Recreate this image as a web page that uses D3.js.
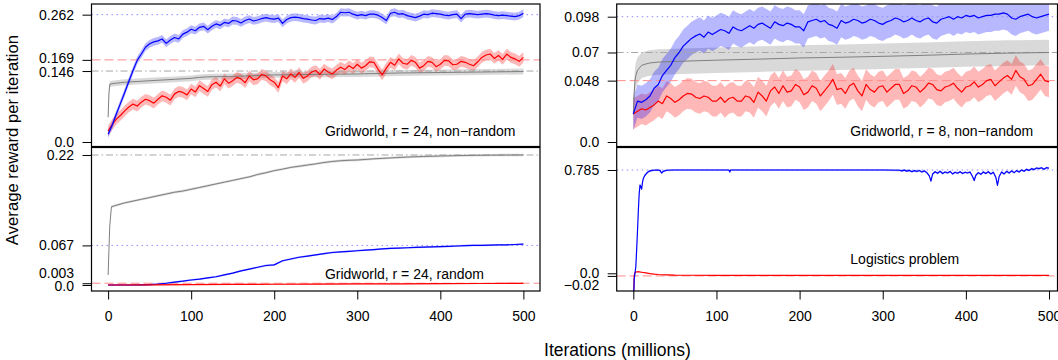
<!DOCTYPE html>
<html>
<head>
<meta charset="utf-8">
<script src="https://cdn.jsdelivr.net/npm/d3@7"></script>
<style>
  body { margin: 0; background: #fff; }
  text { font-family: "Liberation Sans", Arial, sans-serif; fill: #000; }
</style>
</head>
<body>
<svg id="chart" width="1058" height="360"></svg>
<script>
// ---- data ----
var iter5 = d3.range(0, 501, 5);
var iter10 = d3.range(0, 501, 10);
var xTicks = [0, 100, 200, 300, 400, 500];

// Gridworld r = 24, non-random
var tlBlue = [
  0.016,0.035,0.058,0.080,0.102,0.125,0.147,0.168,0.181,0.195,
  0.202,0.206,0.208,0.212,0.203,0.210,0.215,0.212,0.222,0.226,
  0.232,0.229,0.236,0.238,0.231,0.238,0.243,0.240,0.246,0.244,
  0.250,0.249,0.245,0.250,0.253,0.249,0.251,0.254,0.256,0.254,
  0.253,0.255,0.244,0.252,0.256,0.257,0.256,0.254,0.253,0.251,
  0.250,0.254,0.253,0.255,0.252,0.258,0.267,0.266,0.267,0.263,
  0.260,0.262,0.260,0.263,0.263,0.261,0.256,0.250,0.265,0.267,
  0.263,0.264,0.260,0.258,0.256,0.259,0.263,0.262,0.265,0.264,
  0.263,0.261,0.260,0.262,0.263,0.254,0.263,0.264,0.263,0.262,
  0.263,0.264,0.263,0.261,0.260,0.261,0.260,0.259,0.258,0.260,
  0.265];
var tlRed = [
  0.023,0.036,0.047,0.055,0.064,0.072,0.078,0.074,0.082,0.088,
  0.085,0.080,0.088,0.095,0.092,0.086,0.099,0.104,0.102,0.097,
  0.109,0.103,0.116,0.110,0.104,0.118,0.123,0.115,0.130,0.121,
  0.126,0.133,0.130,0.122,0.136,0.128,0.130,0.139,0.136,0.128,
  0.123,0.112,0.136,0.130,0.140,0.133,0.143,0.131,0.136,0.144,
  0.147,0.139,0.150,0.144,0.140,0.148,0.154,0.149,0.157,0.151,
  0.160,0.152,0.157,0.165,0.164,0.150,0.138,0.152,0.164,0.158,
  0.171,0.162,0.160,0.168,0.164,0.152,0.157,0.166,0.164,0.155,
  0.160,0.168,0.167,0.159,0.160,0.166,0.164,0.160,0.157,0.165,
  0.174,0.179,0.181,0.172,0.178,0.170,0.181,0.174,0.171,0.166,
  0.174];
var tlGrayX = [0, 1, 2, 5, 10, 20, 40, 60, 80, 100, 110, 120, 150, 200, 250, 300, 350, 400, 450, 500];
var tlGray = [0.051, 0.100, 0.119, 0.120, 0.121, 0.123, 0.125, 0.127, 0.129, 0.131, 0.133, 0.134, 0.135, 0.138, 0.139, 0.140, 0.142, 0.143, 0.144, 0.145];
var tlRefs = [0.262, 0.169, 0.146];          // blue, red, gray
var tlBands = [0.008, 0.011, 0.006];         // blue, red, gray half-widths

// Gridworld r = 24, random
var blBlue = [
  0,0,0,0,0.0003,0.0008,0.0015,0.003,0.005,0.0065,
  0.0085,0.010,0.012,0.014,0.017,0.020,0.024,0.027,0.030,0.033,
  0.034,0.041,0.044,0.047,0.049,0.051,0.053,0.055,0.056,0.057,
  0.058,0.059,0.060,0.061,0.062,0.0625,0.063,0.0635,0.064,0.0645,
  0.065,0.0655,0.066,0.0665,0.067,0.067,0.0675,0.068,0.068,0.0685,
  0.069];
var blRedX = [0, 50, 100, 150, 200, 250, 300, 350, 400, 450, 500];
var blRed = [0, 0.0003, 0.0008, 0.001, 0.0013, 0.0016, 0.0018, 0.002, 0.0022, 0.0025, 0.0027];
var blGrayX = [0, 1, 2, 4, 10, 20, 30, 40, 50, 60, 70, 80, 90, 100, 110, 120, 130, 140, 150, 160, 170, 180, 190, 200,
  210, 220, 230, 240, 250, 260, 270, 280, 290, 300, 320, 340, 360, 380, 400, 420, 440, 460, 480, 500];
var blGray = [0.017, 0.060, 0.100, 0.1325, 0.135, 0.139, 0.142, 0.145, 0.148, 0.151, 0.154, 0.157, 0.159, 0.162, 0.165, 0.168,
  0.171, 0.174, 0.177, 0.180, 0.183, 0.187, 0.190, 0.1935, 0.196, 0.199, 0.201, 0.203, 0.205, 0.2073, 0.209, 0.2103,
  0.211, 0.2115, 0.2135, 0.215, 0.2165, 0.2175, 0.2183, 0.2189, 0.2194, 0.2197, 0.2199, 0.220];
var blRefs = [0.067, 0.003, 0.22];
var blBands = [0.0015, 0.001, 0.002];

// Gridworld r = 8, non-random
var trBlue = [
  0.022,0.032,0.031,0.033,0.036,0.042,0.045,0.052,0.056,0.060,
  0.066,0.070,0.075,0.078,0.081,0.083,0.0845,0.082,0.086,0.084,
  0.086,0.088,0.087,0.085,0.090,0.088,0.087,0.089,0.091,0.089,
  0.092,0.093,0.091,0.089,0.094,0.092,0.091,0.093,0.092,0.090,
  0.090,0.087,0.094,0.095,0.096,0.094,0.095,0.092,0.091,0.089,
  0.095,0.093,0.094,0.096,0.095,0.093,0.094,0.096,0.095,0.093,
  0.092,0.094,0.095,0.097,0.096,0.094,0.095,0.097,0.095,0.094,
  0.096,0.097,0.094,0.093,0.096,0.097,0.098,0.096,0.098,0.097,
  0.099,0.098,0.099,0.097,0.098,0.099,0.099,0.100,0.100,0.101,
  0.100,0.097,0.096,0.098,0.099,0.100,0.098,0.097,0.098,0.099,
  0.100];
var trRed = [
  0.022,0.024,0.026,0.025,0.027,0.029,0.032,0.030,0.036,0.034,
  0.031,0.033,0.036,0.038,0.0375,0.035,0.034,0.036,0.035,0.032,
  0.032,0.035,0.031,0.034,0.035,0.032,0.032,0.036,0.035,0.031,
  0.039,0.036,0.032,0.040,0.043,0.038,0.044,0.039,0.040,0.045,
  0.043,0.037,0.039,0.044,0.042,0.036,0.040,0.044,0.049,0.041,
  0.042,0.038,0.044,0.046,0.040,0.036,0.045,0.041,0.039,0.043,
  0.044,0.039,0.042,0.045,0.045,0.038,0.040,0.044,0.043,0.039,
  0.042,0.046,0.045,0.041,0.040,0.043,0.044,0.046,0.042,0.039,
  0.043,0.044,0.047,0.043,0.045,0.048,0.049,0.044,0.047,0.050,
  0.052,0.049,0.056,0.051,0.049,0.044,0.045,0.049,0.053,0.048,
  0.047];
var trGrayX = [0, 1, 2, 3, 5, 10, 15, 20, 30, 50, 100, 150, 200, 250, 300, 350, 400, 450, 500];
var trGray = [0.022, 0.038, 0.048, 0.052, 0.056, 0.060, 0.061, 0.0618, 0.0625, 0.063, 0.064, 0.0648, 0.0657, 0.0663, 0.067, 0.0678, 0.0688, 0.0695, 0.070];
var trRefs = [0.098, 0.048, 0.07];
var trBands = [0.013, 0.012, 0.010];

// Logistics problem
var brBlueX = [0, 1, 2, 3, 4, 5, 6, 7, 8, 9, 10, 11, 12, 14, 16, 18, 20, 24, 28, 32, 34, 36, 40, 50, 100, 115, 116, 117, 200, 300,
  320, 323, 326, 329, 332, 335, 338, 341, 344, 347, 350, 353, 356, 358, 360, 363, 366, 369, 372, 375, 378, 381, 384, 387,
  390, 393, 396, 399, 402, 405, 408, 410, 412, 415, 418, 421, 424, 427, 430, 433, 436, 438, 440, 443, 446, 449, 452, 455,
  458, 461, 464, 467, 470, 473, 476, 479, 482, 485, 488, 491, 494, 497, 500];
var brBlue = [-0.30, -0.05, 0.0, 0.05, 0.18, 0.32, 0.47, 0.60, 0.67, 0.66, 0.64, 0.69, 0.72, 0.745, 0.76, 0.772, 0.778, 0.783, 0.785, 0.782, 0.762, 0.775, 0.783, 0.785, 0.785, 0.785, 0.77, 0.785, 0.785, 0.785,
  0.783, 0.778, 0.784, 0.776, 0.782, 0.772, 0.780, 0.774, 0.781, 0.770, 0.778, 0.765, 0.740, 0.700, 0.755, 0.772, 0.760, 0.775, 0.758, 0.770, 0.762, 0.774, 0.755, 0.768,
  0.760, 0.772, 0.758, 0.768, 0.762, 0.770, 0.735, 0.705, 0.745, 0.765, 0.752, 0.770, 0.758, 0.772, 0.755, 0.768, 0.730, 0.668, 0.735, 0.770, 0.755, 0.775, 0.762, 0.778,
  0.765, 0.780, 0.770, 0.785, 0.775, 0.790, 0.782, 0.795, 0.788, 0.800, 0.795, 0.802, 0.790, 0.803, 0.798];
var brRedX = [0, 1, 2, 3, 5, 7, 10, 15, 20, 25, 30, 40, 50, 70, 100, 200, 300, 400, 500];
var brRed = [-0.30, -0.02, 0.005, 0.010, 0.012, 0.011, 0.008, 0.003, -0.002, -0.006, -0.009, -0.012, -0.014, -0.015, -0.016, -0.016, -0.016, -0.016, -0.016];
var brRefs = [0.785, -0.02, null];
var brBands = [0.008, 0.002, 0];

// ---- styles ----
var lineColor = { blue: "#0000ff", red: "#ff0000", gray: "#7f7f7f" };
var bandColor = { blue: "rgba(0,0,255,0.28)", red: "rgba(255,0,0,0.28)", gray: "rgba(128,128,128,0.3)" };
var refStyle = {
  blue: { c: "#8c8cff", dash: "1.5,3.5" },
  red: { c: "#ff8c8c", dash: "9,4" },
  gray: { c: "#a6a6a6", dash: "7,3,1.5,3" }
};
var kinds = ["blue", "red", "gray"];

function mk(xs, ys, band, kind) { return { pts: xs.map(function (d, i) { return [d, ys[i]]; }), half: band, kind: kind }; }

var panels = [
  { x0: 91.5, x1: 540, y0: 4, y1: 146.5, yDomain: [-0.00926, 0.28395], xDomain: [-20, 520],
    ticks: [0, 0.146, 0.169, 0.262], tickLabels: ["0.0", "0.146", "0.169", "0.262"], nudge: [0, 1, -1.5, 0],
    refs: tlRefs, label: "Gridworld, r = 24, non\u2212random", labelY: 135.5, xAxis: false,
    series: [mk(tlGrayX, tlGray, tlBands[2], "gray"), mk(iter5, tlRed, tlBands[1], "red"), mk(iter5, tlBlue, tlBands[0], "blue")] },
  { x0: 91.5, x1: 540, y0: 147.5, y1: 291, yDomain: [-0.01015, 0.23266], xDomain: [-20, 520],
    ticks: [0, 0.003, 0.067, 0.22], tickLabels: ["0.0", "0.003", "0.067", "0.22"], nudge: [1.5, -10.5, 0, 0],
    refs: blRefs, label: "Gridworld, r = 24, random", labelY: 278.5, xAxis: true,
    series: [mk(blGrayX, blGray, blBands[2], "gray"), mk(iter10, blBlue, blBands[0], "blue"), mk(blRedX, blRed, blBands[1], "red")] },
  { x0: 616.7, x1: 1057.5, y0: 4, y1: 146.5, yDomain: [-0.00352, 0.10793], xDomain: [-20, 510.2],
    ticks: [0, 0.048, 0.07, 0.098], tickLabels: ["0.0", "0.048", "0.07", "0.098"], nudge: [0, 0, 0, 0],
    refs: trRefs, label: "Gridworld, r = 8, non\u2212random", labelY: 135.5, xAxis: false,
    series: [mk(trGrayX, trGray, trBands[2], "gray"), mk(iter5, trRed, trBands[1], "red"), mk(iter5, trBlue, trBands[0], "blue")] },
  { x0: 616.7, x1: 1057.5, y0: 147.5, y1: 291, yDomain: [-0.1345, 0.9559], xDomain: [-20, 510.2],
    ticks: [-0.02, 0, 0.785], tickLabels: ["\u22120.02", "0.0", "0.785"], nudge: [9, 0, 0],
    refs: brRefs, label: "Logistics problem", labelY: 264.3, xAxis: true,
    series: [mk(brRedX, brRed, brBands[1], "red"), mk(brBlueX, brBlue, brBands[0], "blue")] }
];

var svg = d3.select("#chart");

panels.forEach(function (p, i) {
  var x = d3.scaleLinear().domain(p.xDomain).range([p.x0, p.x1]);
  var y = d3.scaleLinear().domain(p.yDomain).range([p.y1, p.y0]);

  svg.append("clipPath").attr("id", "clip" + i)
    .append("rect").attr("x", p.x0).attr("y", p.y0).attr("width", p.x1 - p.x0).attr("height", p.y1 - p.y0);
  var g = svg.append("g").attr("clip-path", "url(#clip" + i + ")");

  // bands
  p.series.forEach(function (s) {
    if (!s.half) return;
    g.append("path").datum(s.pts)
      .attr("fill", bandColor[s.kind])
      .attr("d", d3.area().x(function (d) { return x(d[0]); })
        .y0(function (d) { return y(d[1] - s.half); })
        .y1(function (d) { return y(d[1] + s.half); }));
  });

  // reference levels
  p.refs.forEach(function (r, k) {
    if (r === null) return;
    var st = refStyle[kinds[k]];
    g.append("line").attr("x1", p.x0).attr("x2", p.x1).attr("y1", y(r)).attr("y2", y(r))
      .attr("stroke", st.c).attr("stroke-width", 1).attr("stroke-dasharray", st.dash);
  });

  // lines
  p.series.forEach(function (s) {
    g.append("path").datum(s.pts)
      .attr("fill", "none")
      .attr("stroke", lineColor[s.kind])
      .attr("stroke-width", s.kind === "gray" ? 1 : 1.2)
      .attr("stroke-linejoin", "round")
      .attr("d", d3.line().x(function (d) { return x(d[0]); }).y(function (d) { return y(d[1]); }));
  });

  g.append("text").attr("x", x(261)).attr("y", p.labelY)
    .attr("font-size", 14).text(p.label);

  // y axis
  var ya = svg.append("g").attr("transform", "translate(" + p.x0 + ",0)")
    .call(d3.axisLeft(y).tickValues(p.ticks).tickSize(9).tickPadding(8.5)
      .tickFormat(function (d, j) { return p.tickLabels[j]; }));
  ya.select(".domain").remove();
  ya.selectAll("text").attr("font-size", 14).attr("font-family", null)
    .attr("transform", function (d, j) { return "translate(0," + p.nudge[j] + ")"; });

  if (p.xAxis) {
    var xa = svg.append("g").attr("transform", "translate(0," + p.y1 + ")")
      .call(d3.axisBottom(x).tickValues(xTicks).tickSize(8.5).tickPadding(12));
    xa.select(".domain").remove();
    xa.selectAll("text").attr("font-size", 14).attr("font-family", null);
  }

  svg.append("rect").attr("x", p.x0).attr("y", p.y0)
    .attr("width", p.x1 - p.x0).attr("height", p.y1 - p.y0)
    .attr("fill", "none").attr("stroke", "#000").attr("stroke-width", 1.2);
});

svg.append("text").attr("transform", "translate(17.5,140) rotate(-90)")
  .attr("text-anchor", "middle").attr("font-size", 16.7)
  .text("Average reward per iteration");

svg.append("text").attr("x", 617.5).attr("y", 355.5)
  .attr("text-anchor", "middle").attr("font-size", 17.5)
  .text("Iterations (millions)");
</script>
</body>
</html>
